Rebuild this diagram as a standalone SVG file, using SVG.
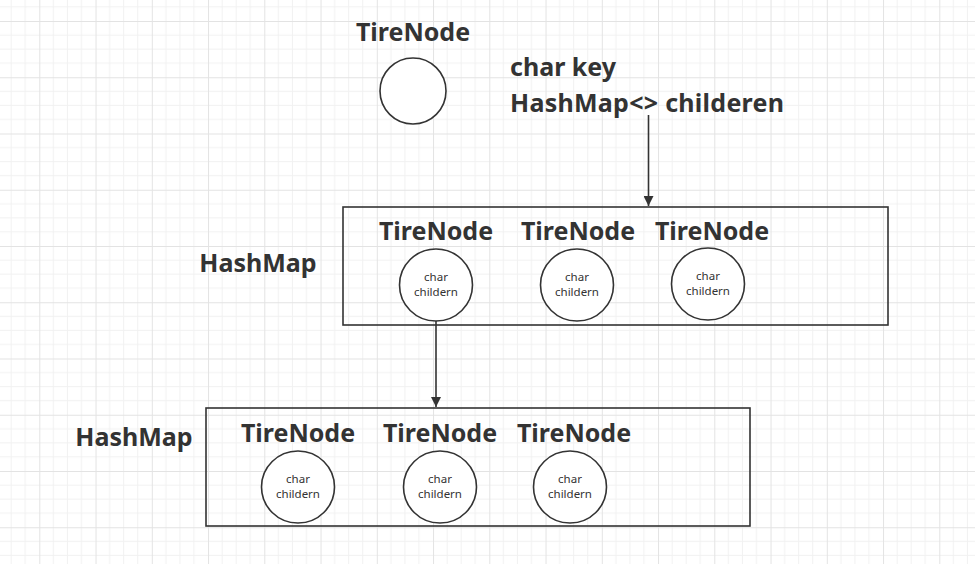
<svg xmlns="http://www.w3.org/2000/svg" width="975" height="564" viewBox="0 0 975 564">
<defs>
<pattern id="grid" patternUnits="userSpaceOnUse" x="39.3" y="21" width="56.25" height="56.25">
<path d="M14.06 0V56.25M28.125 0V56.25M42.19 0V56.25M0 14.06H56.25M0 28.125H56.25M0 42.19H56.25" stroke="#f1f1f1" stroke-width="1" fill="none"/>
<path d="M0.5 0V56.25M0 0.5H56.25" stroke="#e3e3e3" stroke-width="1" fill="none"/>
</pattern>
<marker id="arr" viewBox="0 0 10 10" refX="10" refY="5" markerWidth="10" markerHeight="10" markerUnits="userSpaceOnUse" orient="auto">
<path d="M0 0L10 5L0 10z" fill="#333"/>
</marker>
<style>
.big{font-family:"Noto Sans","Liberation Sans",sans-serif;font-weight:bold;font-size:25px;fill:#333}
.small{font-family:"Noto Sans","Liberation Sans",sans-serif;font-size:11.5px;fill:#333;text-anchor:middle}
.c{fill:#fff;stroke:#333;stroke-width:1.6}
.box{fill:none;stroke:#333;stroke-width:1.6}
.mid{text-anchor:middle}
</style>
</defs>
<rect width="975" height="564" fill="#fff"/>
<rect width="975" height="564" fill="url(#grid)"/>

<g id="root">
<text class="big mid" x="413" y="41">TireNode</text>
<circle class="c" cx="413" cy="91" r="33"/>
<text class="big" x="510" y="76">char key</text>
<text class="big" x="510" y="112" textLength="274" lengthAdjust="spacing">HashMap&lt;&gt; childeren</text>
</g>

<g id="map1">
<rect class="box" x="343" y="207" width="545" height="118"/>
<text class="big mid" x="258" y="272">HashMap</text>
</g>
<g id="n1a">
<text class="big mid" x="436" y="240">TireNode</text>
<ellipse class="c" cx="436" cy="285" rx="36.5" ry="36"/>
<text class="small" x="436" y="281">char</text>
<text class="small" x="436" y="296">childern</text>
</g>
<g id="n1b">
<text class="big mid" x="578" y="240">TireNode</text>
<ellipse class="c" cx="577" cy="285" rx="36.5" ry="36"/>
<text class="small" x="577" y="281">char</text>
<text class="small" x="577" y="296">childern</text>
</g>
<g id="n1c">
<text class="big mid" x="712" y="240">TireNode</text>
<ellipse class="c" cx="708" cy="284" rx="36.5" ry="36"/>
<text class="small" x="708" y="280">char</text>
<text class="small" x="708" y="295">childern</text>
</g>

<g id="map2">
<rect class="box" x="206" y="408" width="544" height="118"/>
<text class="big mid" x="134" y="446">HashMap</text>
</g>
<g id="n2a">
<text class="big mid" x="298" y="442">TireNode</text>
<ellipse class="c" cx="298" cy="487" rx="36.5" ry="36"/>
<text class="small" x="298" y="483">char</text>
<text class="small" x="298" y="498">childern</text>
</g>
<g id="n2b">
<text class="big mid" x="440" y="442">TireNode</text>
<ellipse class="c" cx="440" cy="487" rx="36.5" ry="36"/>
<text class="small" x="440" y="483">char</text>
<text class="small" x="440" y="498">childern</text>
</g>
<g id="n2c">
<text class="big mid" x="574" y="442">TireNode</text>
<ellipse class="c" cx="570" cy="487" rx="36.5" ry="36"/>
<text class="small" x="570" y="483">char</text>
<text class="small" x="570" y="498">childern</text>
</g>

<g id="connectors" stroke="#333" stroke-width="1.6" fill="none">
<path d="M648.5 115V206" marker-end="url(#arr)"/>
<path d="M436 321V407" marker-end="url(#arr)"/>
</g>
</svg>
